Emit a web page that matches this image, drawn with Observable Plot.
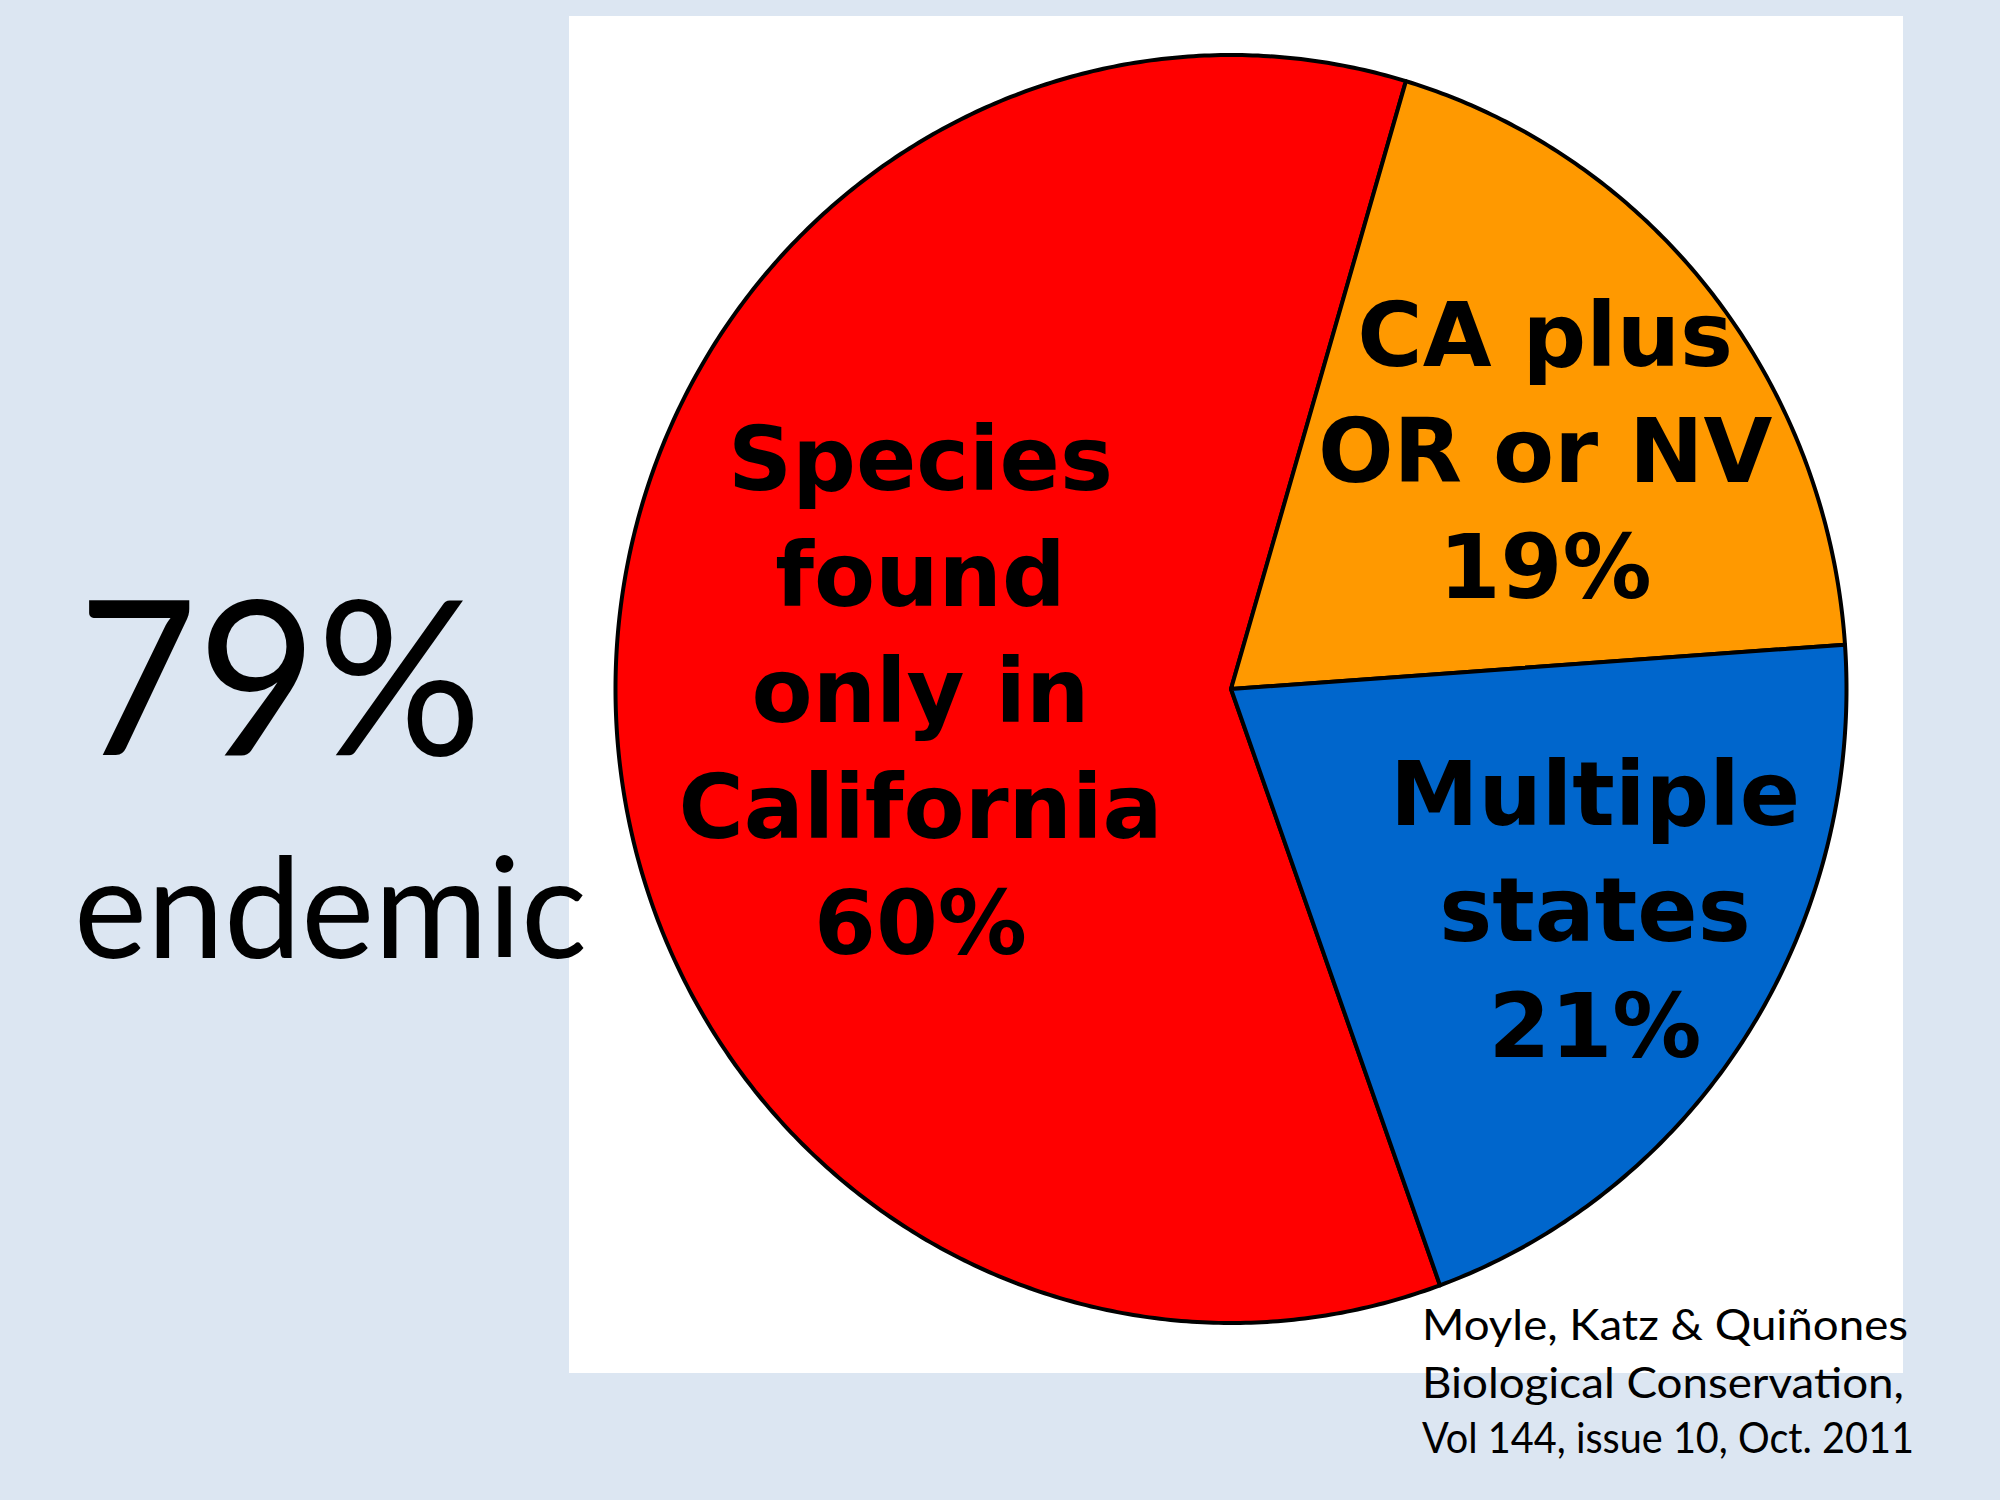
<!DOCTYPE html>
<html><head><meta charset="utf-8">
<script src="https://cdn.jsdelivr.net/npm/d3@7"></script>
<script src="https://cdn.jsdelivr.net/npm/@observablehq/plot@0.6"></script>
<style>
html,body{margin:0;padding:0;background:#dce6f2;}
#page{position:relative;width:2000px;height:1500px;overflow:hidden;background:#dce6f2;}
#panel{position:absolute;left:569px;top:16px;width:1334px;height:1357px;background:#ffffff;}
#chart{position:absolute;left:0;top:0;}
#notes{position:absolute;left:0;top:0;}
</style></head><body>
<div id="page"><div id="panel"></div><div id="chart"></div><svg id="notes" width="2000" height="1500"></svg></div>
<script>
// ---- data ----
const categories = ["Species\nfound\nonly in\nCalifornia", "CA plus\nOR or NV", "Multiple\nstates"];
const shares = [60.1, 19.3, 20.6];          // slice sizes
const shareLabels = ["60%", "19%", "21%"];  // printed percentages
const sliceColors = ["#ff0000", "#ff9900", "#0066cc"];
const headline = "79%";
const headlineSub = "endemic";
const citation = ["Moyle, Katz & Quiñones", "Biological Conservation,", "Vol 144, issue 10, Oct. 2011"];

// ---- layout settings ----
const startDeg = 160.15;           // first slice starts here (clockwise from 12 o'clock)
const labelRadius = [0.5045, 0.633, 0.6875];
const labelNudgeDeg = [1.2, 2.5, -2.4];

const slices = categories.map((c, i) => ({name: c, share: shares[i], pct: shareLabels[i]}));
const rad = Math.PI / 180;
const pie = d3.pie().sort(null).value(d => d.share)
  .startAngle(startDeg * rad).endAngle((startDeg + 360) * rad);
const arcs = pie(slices);

const outline = arcs.flatMap(a => {
  const name = a.data.name;
  const n = Math.max(2, Math.ceil((a.endAngle - a.startAngle) / (0.5 * rad)));
  const pts = [{name, x: 0, y: 0}];
  for (let i = 0; i <= n; i++) {
    const t = a.startAngle + (a.endAngle - a.startAngle) * i / n;
    pts.push({name, x: Math.sin(t), y: Math.cos(t)});
  }
  pts.push({name, x: 0, y: 0});
  return pts;
});

const labels = arcs.map((a, i) => {
  const mid = (a.startAngle + a.endAngle) / 2 + labelNudgeDeg[i] * rad;
  return {
    x: labelRadius[i] * Math.sin(mid),
    y: labelRadius[i] * Math.cos(mid),
    text: a.data.name + "\n" + a.data.pct
  };
});

const chart = Plot.plot({
  width: 2000,
  height: 1500,
  margin: 0,
  axis: null,
  x: {domain: [-1, 1], range: [615, 1846]},
  y: {domain: [-1, 1], range: [1322.5, 54.5]},
  color: {domain: categories, range: sliceColors},
  style: {background: "transparent", overflow: "visible"},
  marks: [
    Plot.line(outline, {x: "x", y: "y", z: "name", fill: "name", stroke: "black", strokeWidth: 4, strokeLinejoin: "round"}),
    Plot.text(labels, {
      x: "x", y: "y", text: "text", dy: -7,
      fontSize: 89, fontWeight: "bold", fontFamily: "DejaVu Sans",
      lineHeight: 1.303, lineAnchor: "middle", textAnchor: "middle", fill: "black"
    })
  ]
});
document.getElementById("chart").appendChild(chart);

// ---- side text ----
const notes = d3.select("#notes");
const noteFont = "Lato, 'Open Sans', sans-serif";
notes.append("text").attr("x", 78).attr("y", 755)
  .attr("font-family", noteFont).attr("font-size", 216)
  .attr("textLength", 404).attr("lengthAdjust", "spacingAndGlyphs")
  .attr("fill", "black").text(headline);
notes.append("text").attr("x", 74).attr("y", 958)
  .attr("font-family", noteFont).attr("font-size", 140)
  .attr("textLength", 513).attr("lengthAdjust", "spacingAndGlyphs")
  .attr("fill", "black").text(headlineSub);
const citeY = [1340, 1398, 1453];
const citeW = [486, 482, 492];
citation.forEach((line, i) => {
  notes.append("text").attr("x", 1422).attr("y", citeY[i])
    .attr("font-family", noteFont).attr("font-size", 42)
    .attr("textLength", citeW[i]).attr("lengthAdjust", "spacingAndGlyphs")
    .attr("fill", "black").text(line);
});
</script>
</body></html>
